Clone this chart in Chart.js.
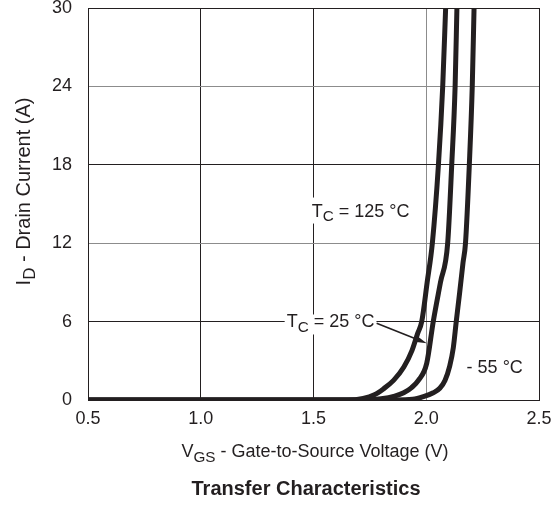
<!DOCTYPE html>
<html><head><meta charset="utf-8">
<script src="https://cdn.jsdelivr.net/npm/chart.js@4.4.0/dist/chart.umd.min.js"></script>
<style>html,body{margin:0;padding:0;background:#fff;}#wrap{width:555px;height:506px;}</style>
</head><body><div id="wrap"><canvas id="c" width="555" height="506"></canvas></div>
<script>
// ---- data ----
const xTicks = [0.5, 1.0, 1.5, 2.0, 2.5];
const yTicks = [0, 6, 12, 18, 24, 30];
const seriesNames = ['TC = 125 °C', 'TC = 25 °C', 'TC = - 55 °C'];
const vgs125 = [0.5, 1.65, 1.72, 1.77, 1.81, 1.855, 1.90, 1.937, 1.962, 1.980, 2.004, 2.027, 2.054, 2.073, 2.086];
const id125  = [0,   0,    0.12, 0.4,  0.85, 1.5,   2.5,  3.8,   5.1,   6.0,   9.0,   12.0,  18.0,  24.0,  30.0];
const vgs25  = [0.5, 1.72, 1.80, 1.86, 1.90, 1.935, 1.965, 2.002, 2.031, 2.063, 2.095, 2.113, 2.128, 2.136];
const id25   = [0,   0,    0.1,  0.3,  0.55, 0.95,  1.5,   2.8,   6.0,   9.0,   12.0,  18.0,  24.0,  30.0];
const vgsM55 = [0.5, 1.86, 1.94, 1.987, 2.031, 2.06, 2.083, 2.104, 2.120, 2.133, 2.148, 2.163, 2.174, 2.191, 2.204, 2.212];
const idM55  = [0,   0,    0.05, 0.25,  0.55,  0.9,  1.5,   2.6,   4.0,   6.0,   8.2,   10.5,  12.0,  18.0,  24.0,  30.0];
// annotation anchors (data coordinates: V, A)
const lbl125 = [1.492, 14.04];
const lbl25  = [1.381, 5.55];
const lblM55 = [2.179, 2.03];
const arrowFrom = [1.780, 5.87];
const arrowTo   = [2.002, 4.34];

const INK = '#231f20';
const GRAY = '#8c8c8c';
const FONT = '"Liberation Sans", Arial, sans-serif';

function zip(xs, ys){ return xs.map((x,i)=>({x:x, y:ys[i]})); }

function partsWidth(ctx, parts, size, bold){
  let w = 0;
  for (const [t, sub] of parts){
    ctx.font = (bold?'bold ':'') + (sub? size*0.85 : size) + 'px ' + FONT;
    w += ctx.measureText(t).width;
  }
  return w;
}
function drawParts(ctx, parts, x, y, size, bold){
  let cx = x;
  for (const [t, sub] of parts){
    ctx.font = (bold?'bold ':'') + (sub? size*0.85 : size) + 'px ' + FONT;
    ctx.fillText(t, cx, sub ? y + size*0.26 : y);
    cx += ctx.measureText(t).width;
  }
}

const textPlugin = {
  id: 'texts',
  afterDraw(chart){
    const ctx = chart.ctx, xs = chart.scales.x, ys = chart.scales.y;
    ctx.save();
    ctx.fillStyle = INK;
    ctx.textBaseline = 'alphabetic';
    ctx.textAlign = 'left';
    // x axis title
    const xt = [['V',0],['GS',1],[' - Gate-to-Source Voltage (V)',0]];
    let w = partsWidth(ctx, xt, 18, false);
    drawParts(ctx, xt, 315 - w/2, 457, 18, false);
    // y axis title
    const yt = [['I',0],['D',1],[' - Drain Current (A)',0]];
    ctx.save();
    ctx.translate(30, 191.5);
    ctx.rotate(-Math.PI/2);
    w = partsWidth(ctx, yt, 20, false);
    drawParts(ctx, yt, -w/2, 0, 20, false);
    ctx.restore();
    // chart title
    ctx.font = 'bold 20px ' + FONT;
    ctx.textAlign = 'center';
    ctx.fillText('Transfer Characteristics', 306, 495);
    ctx.textAlign = 'left';
    // annotations
    const a1 = [['T',0],['C',1],[' = 125 °C',0]];
    const a2 = [['T',0],['C',1],[' = 25 °C',0]];
    const a3 = [['- 55 °C',0]];
    const p1 = [xs.getPixelForValue(lbl125[0]), ys.getPixelForValue(lbl125[1])];
    const p2 = [xs.getPixelForValue(lbl25[0]), ys.getPixelForValue(lbl25[1])];
    const p3 = [xs.getPixelForValue(lblM55[0]), ys.getPixelForValue(lblM55[1])];
    ctx.fillStyle = '#fff';
    let w1 = partsWidth(ctx, a1, 18, false);
    ctx.fillRect(p1[0]-3, p1[1]-19, w1+6, 26);
    let w2 = partsWidth(ctx, a2, 18, false);
    ctx.fillRect(p2[0]-2, p2[1]-13, w2+4, 20);
    ctx.fillStyle = INK;
    drawParts(ctx, a1, p1[0], p1[1], 18, false);
    drawParts(ctx, a2, p2[0], p2[1], 18, false);
    drawParts(ctx, a3, p3[0], p3[1], 18, false);
    // arrow
    const f = [xs.getPixelForValue(arrowFrom[0]), ys.getPixelForValue(arrowFrom[1])];
    const t = [xs.getPixelForValue(arrowTo[0]), ys.getPixelForValue(arrowTo[1])];
    const ang = Math.atan2(t[1]-f[1], t[0]-f[0]);
    const hl = 12, hw = 3.2;
    const bx = t[0] - hl*Math.cos(ang), by = t[1] - hl*Math.sin(ang);
    ctx.strokeStyle = INK; ctx.lineWidth = 1.6;
    ctx.beginPath(); ctx.moveTo(f[0], f[1]); ctx.lineTo(bx, by); ctx.stroke();
    ctx.beginPath();
    ctx.moveTo(t[0], t[1]);
    ctx.lineTo(bx + hw*Math.sin(ang), by - hw*Math.cos(ang));
    ctx.lineTo(bx - hw*Math.sin(ang), by + hw*Math.cos(ang));
    ctx.closePath(); ctx.fill();
    ctx.restore();
  }
};

const lineStyle = {
  borderColor: INK, backgroundColor: INK, borderWidth: 5, pointRadius: 0,
  cubicInterpolationMode: 'monotone', borderCapStyle: 'round', borderJoinStyle: 'round', fill: false
};

new Chart(document.getElementById('c'), {
  type: 'line',
  data: {
    datasets: [
      Object.assign({label: seriesNames[0], data: zip(vgs125, id125)}, lineStyle),
      Object.assign({label: seriesNames[1], data: zip(vgs25, id25)}, lineStyle),
      Object.assign({label: seriesNames[2], data: zip(vgsM55, idM55)}, lineStyle)
    ]
  },
  options: {
    responsive: false, animation: false, devicePixelRatio: 1,
    layout: {padding: {left: 0, right: 16, top: 8, bottom: 0}},
    plugins: {legend: {display: false}, tooltip: {enabled: false}, title: {display: false}},
    scales: {
      x: {
        type: 'linear', min: 0.5, max: 2.5,
        afterBuildTicks: s => { s.ticks = xTicks.map(v => ({value: v})); },
        afterFit: s => { s.height = 106; s.paddingLeft = 0; s.paddingRight = 0; },
        ticks: {padding: 8, color: INK, font: {family: FONT, size: 18}, maxRotation: 0,
                callback: v => Number(v).toFixed(1)},
        grid: {drawTicks: false, lineWidth: 1,
               color: c => (c.tick && Math.abs(c.tick.value - 2.0) < 1e-6) ? GRAY : INK},
        border: {display: true, color: INK, width: 1}
      },
      y: {
        type: 'linear', min: 0, max: 30,
        afterBuildTicks: s => { s.ticks = yTicks.map(v => ({value: v})); },
        afterFit: s => { s.width = 88; s.paddingTop = 0; s.paddingBottom = 0; },
        ticks: {padding: 16, color: INK, font: {family: FONT, size: 18}},
        grid: {drawTicks: false, lineWidth: 1,
               color: c => (c.tick && (c.tick.value === 12 || c.tick.value === 24)) ? GRAY : INK},
        border: {display: true, color: INK, width: 1}
      }
    }
  },
  plugins: [textPlugin]
});
</script></body></html>
